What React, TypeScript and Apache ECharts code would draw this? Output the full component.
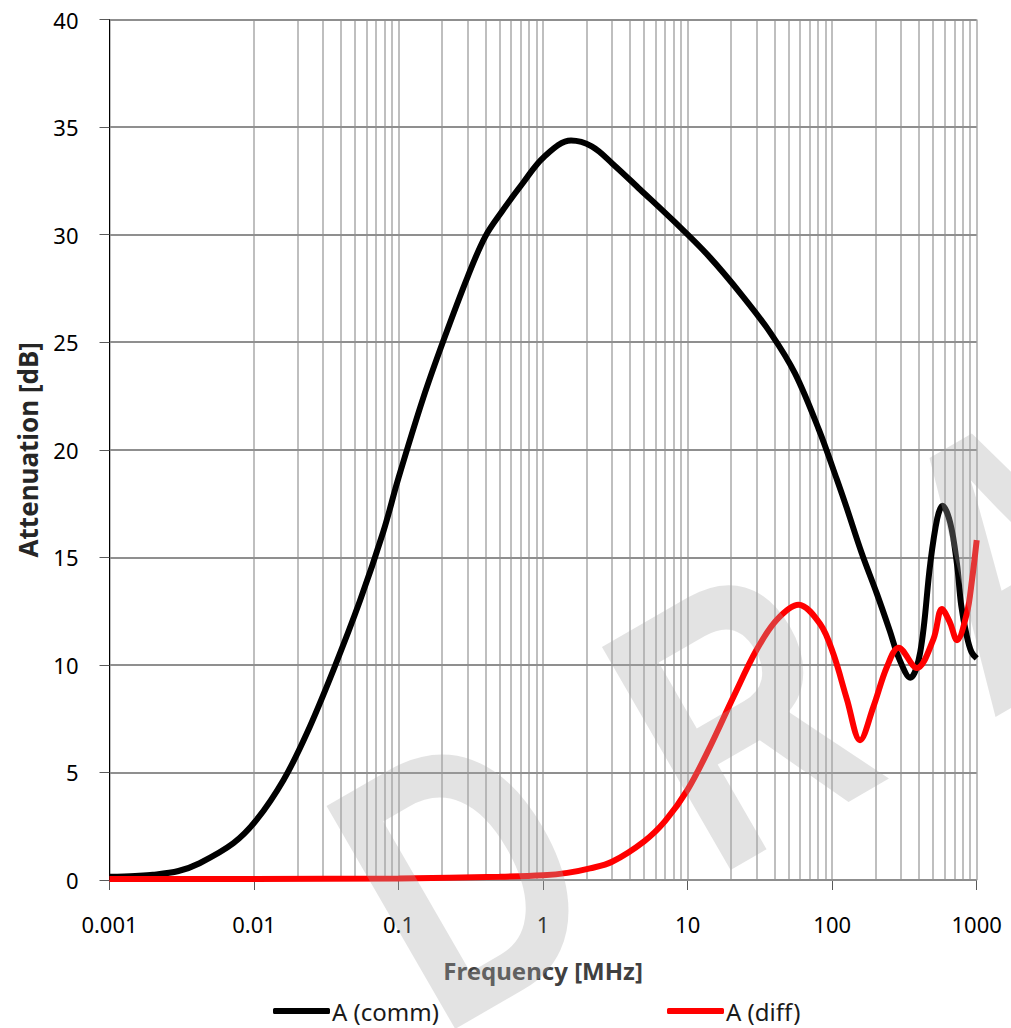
import React, { useEffect, useRef } from "react";
import * as echarts from "echarts";

// ---- data ----
const commFreq = [0.001, 0.0015, 0.002, 0.003, 0.0042, 0.0072, 0.0104, 0.016, 0.0232, 0.0354, 0.0542, 0.0785, 0.1, 0.148, 0.205, 0.301, 0.397, 0.522, 0.725, 1.01, 1.56, 2.17, 3.02, 4.69, 8.1, 14, 24.3, 37.7, 55.3, 81.3, 108, 126, 160, 204, 250, 290, 347, 407, 477, 533, 580, 656, 730, 780, 850, 920, 1000];
const commVal = [0.15, 0.19, 0.24, 0.42, 0.78, 1.71, 2.79, 4.65, 6.82, 9.76, 13.0, 16.2, 18.7, 22.4, 25.1, 28.05, 29.9, 31.1, 32.4, 33.6, 34.37, 34.1, 33.3, 32.1, 30.6, 29.0, 27.1, 25.4, 23.55, 20.9, 18.6, 17.3, 15.2, 13.3, 11.6, 10.3, 9.4, 10.6, 14.7, 16.8, 17.4, 16.6, 14.7, 12.8, 11.4, 10.6, 10.3];

const diffFreq = [0.001, 0.01, 0.1, 0.5, 1, 1.47, 2.11, 3, 5, 7, 10, 14.3, 20.7, 30, 41.4, 58.5, 82.6, 102, 126.5, 156, 193, 239, 288, 385, 502, 574, 650, 730, 855, 926, 1000];
const diffVal = [0.05, 0.05, 0.07, 0.15, 0.22, 0.33, 0.54, 0.85, 1.8, 2.75, 4.2, 6.2, 8.5, 10.7, 12.1, 12.8, 11.9, 10.5, 8.4, 6.5, 8.06, 9.9, 10.8, 9.85, 11.2, 12.6, 12.0, 11.15, 12.4, 13.9, 15.8];

const seriesNames = ["A (comm)", "A (diff)"];
const xMin = 0.001;
const xMax = 1000;
const yMin = 0;
const yMax = 40;
const yStep = 5;
const minorMultipliers = [2, 3, 4, 5, 6, 7, 8, 9];
const decadeExponents = [-3, -2, -1, 0, 1, 2];
const watermarkLetters = ["D", "R", "A", "F", "T"];

const FONT = '"Noto Sans", "Open Sans", sans-serif';

export default function App() {
  const ref = useRef<HTMLDivElement>(null);

  useEffect(() => {
    if (!ref.current) return;
    const chart = echarts.init(ref.current, undefined, { renderer: "svg" });

    const minorLines: number[] = [];
    decadeExponents.forEach((e) => {
      minorMultipliers.forEach((m) => {
        minorLines.push(Number((m * Math.pow(10, e)).toPrecision(6)));
      });
    });

    const commData = commFreq.map((f, i) => [f, commVal[i]]);
    const diffData = diffFreq.map((f, i) => [f, diffVal[i]]);

    // watermark letters, placed along a baseline rotated 30deg
    const rot = Math.PI / 6;
    const ux = Math.cos(rot);
    const uy = -Math.sin(rot);
    const letterOffsets = [-21, 297, 615, 933, 1251];
    const wm = watermarkLetters.map((ch, i) => {
      const u = letterOffsets[i];
      return {
        type: "text",
        x: 392 + ux * u,
        y: 916 + uy * u,
        rotation: rot,
        scaleX: 0.77,
        silent: true,
        z: 100,
        style: {
          text: ch,
          x: 0,
          y: 0,
          fill: "rgba(167,167,167,0.32)",
          font: 'bold 374px "Liberation Sans", Arial, sans-serif',
          textAlign: "left",
          textVerticalAlign: "middle",
        },
      };
    });

    const legendBase = {
      top: 994,
      padding: 5,
      itemWidth: 57,
      itemHeight: 6,
      icon: "roundRect",
      itemStyle: { borderWidth: 0 },
      textStyle: { fontFamily: FONT, fontSize: 24, color: "#1a1a1a", padding: [0, 0, 0, -3] },
      selectedMode: false,
    };

    chart.setOption({
      animation: false,
      backgroundColor: "#ffffff",
      textStyle: { fontFamily: FONT },
      grid: { left: 109.5, right: 34.3, top: 19.5, bottom: 148, containLabel: false },
      legend: [
        { ...legendBase, left: 268, data: [seriesNames[0]] },
        { ...legendBase, left: 662, data: [seriesNames[1]] },
      ],
      xAxis: {
        type: "log",
        logBase: 10,
        min: xMin,
        max: xMax,
        z: 0,
        name: "Frequency [MHz]",
        nameLocation: "middle",
        nameGap: 78,
        nameTextStyle: { fontFamily: FONT, fontSize: 24, fontWeight: "bold", color: "#404040" },
        axisLine: { show: true, lineStyle: { color: "#595959", width: 1 } },
        axisTick: { show: true, length: 10, lineStyle: { color: "#595959", width: 1 } },
        axisLabel: {
          fontFamily: FONT,
          fontSize: 22,
          color: "#000000",
          margin: 33,
          formatter: (v: number) => String(Number(v.toPrecision(6))),
        },
        splitLine: { show: true, lineStyle: { color: "#bfbfbf", width: 2 } },
      },
      yAxis: {
        type: "value",
        min: yMin,
        max: yMax,
        interval: yStep,
        z: 6,
        name: "Attenuation [dB]",
        nameLocation: "middle",
        nameGap: 69,
        nameRotate: 90,
        nameTextStyle: { fontFamily: FONT, fontSize: 26, fontWeight: "bold", color: "#262626" },
        axisLine: { show: true, lineStyle: { color: "#000000", width: 1 } },
        axisTick: { show: true, length: 10, lineStyle: { color: "#595959", width: 1 } },
        axisLabel: { fontFamily: FONT, fontSize: 22, color: "#000000", margin: 31 },
        splitLine: { show: true, lineStyle: { color: "#8f8f8f", width: 2 } },
      },
      series: [
        {
          name: seriesNames[0],
          type: "line",
          data: commData,
          showSymbol: false,
          symbol: "none",
          smooth: 0.35,
          z: 10,
          color: "#000000",
          lineStyle: { color: "#000000", width: 6 },
          emphasis: { disabled: true },
          markLine: {
            silent: true,
            symbol: ["none", "none"],
            label: { show: false },
            emphasis: { disabled: true },
            lineStyle: { color: "#bfbfbf", width: 2, type: "solid" },
            data: minorLines.map((v) => ({ xAxis: v })),
          },
        },
        {
          name: seriesNames[1],
          type: "line",
          data: diffData,
          showSymbol: false,
          symbol: "none",
          smooth: 0.35,
          z: 11,
          color: "#ff0000",
          lineStyle: { color: "#ff0000", width: 6 },
          emphasis: { disabled: true },
        },
      ],
      graphic: { elements: wm },
    });

    return () => chart.dispose();
  }, []);

  return (
    <div
      ref={ref}
      style={{ position: "absolute", left: 0, top: 0, width: 1011, height: 1028 }}
    />
  );
}
